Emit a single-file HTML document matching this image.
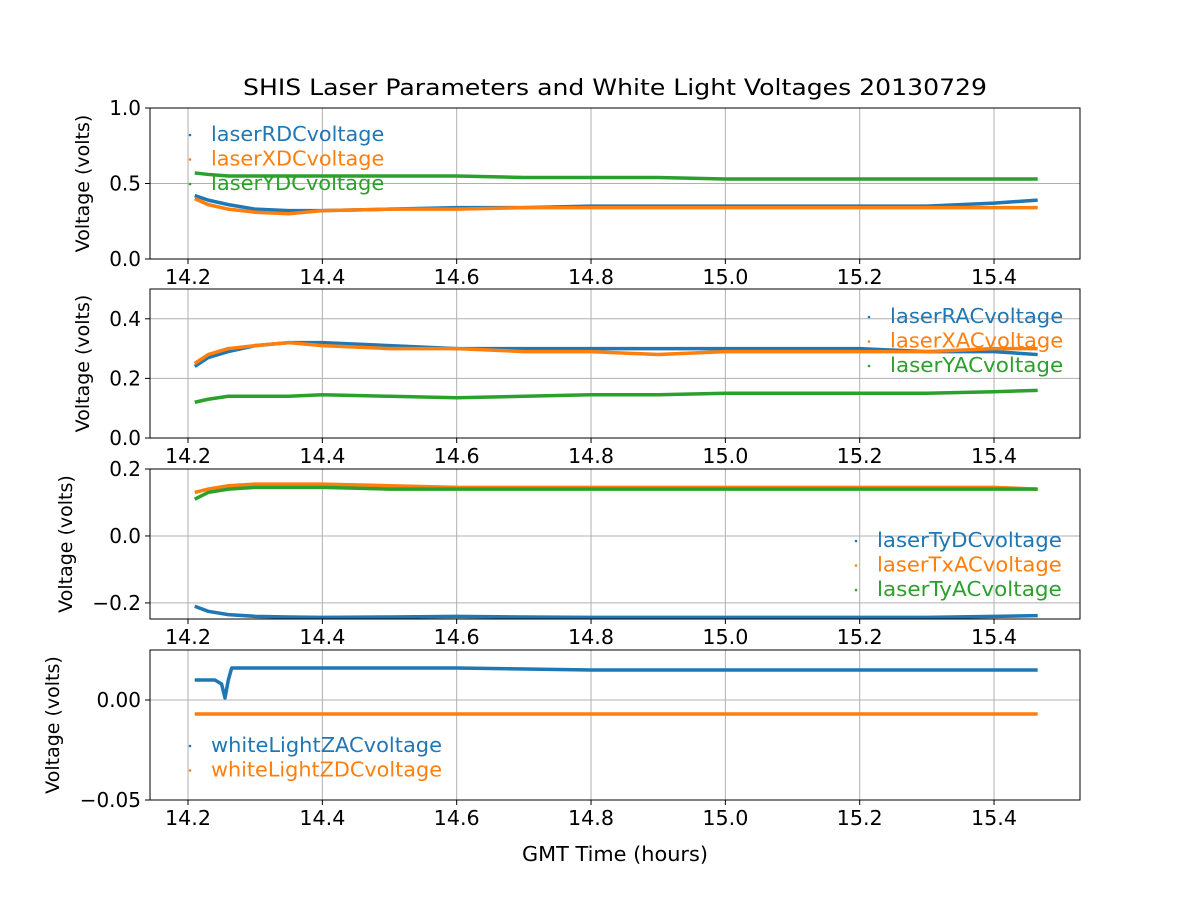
<!DOCTYPE html>
<html><head><meta charset="utf-8"><style>
body{margin:0;background:#fff}
svg text{font-family:"DejaVu Sans","Liberation Sans",sans-serif;fill:#000}
</style></head><body>
<svg id="chart" width="1200" height="900" xmlns="http://www.w3.org/2000/svg">
<rect width="1200" height="900" fill="#fff"/>
<text x="615" y="95" font-size="22" text-anchor="middle" textLength="744" lengthAdjust="spacingAndGlyphs">SHIS Laser Parameters and White Light Voltages 20130729</text>
<text x="615" y="861" font-size="20" text-anchor="middle" textLength="186" lengthAdjust="spacingAndGlyphs">GMT Time (hours)</text>
</svg>
<script>
const times = [14.21,14.23,14.26,14.3,14.35,14.4,14.5,14.6,14.7,14.8,14.9,15.0,15.1,15.2,15.3,15.4,15.465];
const laserRDC = [0.42,0.39,0.36,0.33,0.32,0.32,0.33,0.34,0.34,0.35,0.35,0.35,0.35,0.35,0.35,0.37,0.39];
const laserXDC = [0.40,0.36,0.33,0.31,0.30,0.32,0.33,0.33,0.34,0.34,0.34,0.34,0.34,0.34,0.34,0.34,0.34];
const laserYDC = [0.57,0.56,0.55,0.55,0.55,0.55,0.55,0.55,0.54,0.54,0.54,0.53,0.53,0.53,0.53,0.53,0.53];
const laserRAC = [0.24,0.27,0.29,0.31,0.32,0.32,0.31,0.30,0.30,0.30,0.30,0.30,0.30,0.30,0.29,0.29,0.28];
const laserXAC = [0.25,0.28,0.30,0.31,0.32,0.31,0.30,0.30,0.29,0.29,0.28,0.29,0.29,0.29,0.29,0.30,0.30];
const laserYAC = [0.12,0.13,0.14,0.14,0.14,0.145,0.14,0.135,0.14,0.145,0.145,0.15,0.15,0.15,0.15,0.155,0.16];
const laserTyDC = [-0.21,-0.225,-0.235,-0.24,-0.242,-0.243,-0.242,-0.24,-0.242,-0.243,-0.243,-0.243,-0.243,-0.243,-0.243,-0.24,-0.238];
const laserTxAC = [0.13,0.14,0.15,0.155,0.155,0.155,0.15,0.145,0.145,0.145,0.145,0.145,0.145,0.145,0.145,0.145,0.14];
const laserTyAC = [0.11,0.13,0.14,0.145,0.145,0.145,0.14,0.14,0.14,0.14,0.14,0.14,0.14,0.14,0.14,0.14,0.14];
const times4 = [14.21,14.24,14.25,14.255,14.26,14.265,14.3,14.4,14.6,14.8,15.0,15.2,15.4,15.465];
const wlZAC = [0.010,0.010,0.008,0.001,0.010,0.016,0.016,0.016,0.016,0.015,0.015,0.015,0.015,0.015];
const wlZDC = [-0.007,-0.007,-0.007,-0.007,-0.007,-0.007,-0.007,-0.007,-0.007,-0.007,-0.007,-0.007,-0.007,-0.007];
const xTicks = [14.2,14.4,14.6,14.8,15.0,15.2,15.4];
const xTickLabels = ["14.2","14.4","14.6","14.8","15.0","15.2","15.4"];

const NS="http://www.w3.org/2000/svg";
const svg=document.getElementById('chart');
const L=150,R=1080;
const xs=v=>L+(v-14.1434)/(15.528-14.1434)*(R-L);
function el(tag,attrs,parent){const e=document.createElementNS(NS,tag);for(const k in attrs)e.setAttribute(k,attrs[k]);(parent||svg).appendChild(e);return e;}
const C=['#1f77b4','#ff7f0e','#2ca02c'];

const panels=[
 {top:108,bot:259,ymin:0,ymax:1.0,yt:[0,0.5,1.0],ytl:["0.0","0.5","1.0"],labx:82,
  series:[[times,laserRDC,'laserRDCvoltage'],[times,laserXDC,'laserXDCvoltage'],[times,laserYDC,'laserYDCvoltage']],leg:{mx:190,tx:211,y:141}},
 {top:289,bot:438,ymin:0,ymax:0.5,yt:[0,0.2,0.4],ytl:["0.0","0.2","0.4"],labx:82,
  series:[[times,laserRAC,'laserRACvoltage'],[times,laserXAC,'laserXACvoltage'],[times,laserYAC,'laserYACvoltage']],leg:{mx:869,tx:890,y:323}},
 {top:469,bot:619,ymin:-0.248,ymax:0.2,yt:[-0.2,0,0.2],ytl:["\u22120.2","0.0","0.2"],labx:65,
  series:[[times,laserTyDC,'laserTyDCvoltage'],[times,laserTxAC,'laserTxACvoltage'],[times,laserTyAC,'laserTyACvoltage']],leg:{mx:856,tx:877,y:547}},
 {top:650,bot:800,ymin:-0.05,ymax:0.025,yt:[-0.05,0],ytl:["\u22120.05","0.00"],labx:52,
  series:[[times4,wlZAC,'whiteLightZACvoltage'],[times4,wlZDC,'whiteLightZDCvoltage']],leg:{mx:190,tx:211,y:752}}
];
panels.forEach((p,pi)=>{
 const g=el('g',{});
 
 
 const ys=v=>p.bot-(v-p.ymin)/(p.ymax-p.ymin)*(p.bot-p.top);
 xTicks.forEach((t,i)=>{
  const x=xs(t);
  el('line',{x1:x,x2:x,y1:p.top,y2:p.bot,stroke:'#b0b0b0','stroke-width':1},g);
  el('line',{x1:x,x2:x,y1:p.bot,y2:p.bot+5,stroke:'#000'},g);
  const tx=el('text',{x:x,y:p.bot+25,'font-size':20,'text-anchor':'middle',textLength:46,lengthAdjust:'spacingAndGlyphs'},g);tx.textContent=xTickLabels[i];
  
  
 });
 p.yt.forEach((v,i)=>{
  const y=ys(v);
  el('line',{x1:L,x2:R,y1:y,y2:y,stroke:'#b0b0b0','stroke-width':1},g);
  el('line',{x1:L-5,x2:L,y1:y,y2:y,stroke:'#000'},g);
  const tx=el('text',{x:L-9,y:y+7,'font-size':20,'text-anchor':'end'},g);tx.textContent=p.ytl[i];
  
  
 });
 p.series.forEach((s,si)=>{
  const pts=s[0].map((t,i)=>xs(t)+','+ys(s[1][i])).join(' ');
  const pl=el('polyline',{points:pts,fill:'none',stroke:C[si],'stroke-width':3.5,'stroke-linejoin':'round'},g);
  
  
  const ly=p.leg.y+si*24.5;
  el('circle',{cx:p.leg.mx,cy:ly-6,r:1.3,fill:C[si]},g);
  const lt=el('text',{x:p.leg.tx,y:ly,'font-size':20,textLength:s[2].length*11.55,lengthAdjust:'spacingAndGlyphs'},g);lt.textContent=s[2];
  lt.style.fill=C[si];
  
  
 });
 el('rect',{x:L,y:p.top,width:R-L,height:p.bot-p.top,fill:'none',stroke:'#000','stroke-width':1},g);
 const yl=el('text',{x:0,y:0,'font-size':19,'text-anchor':'middle',transform:`translate(${p.labx+7},${(p.top+p.bot)/2}) rotate(-90)`},g);
 yl.textContent='Voltage (volts)';
 
 
});
</script>
</body></html>
